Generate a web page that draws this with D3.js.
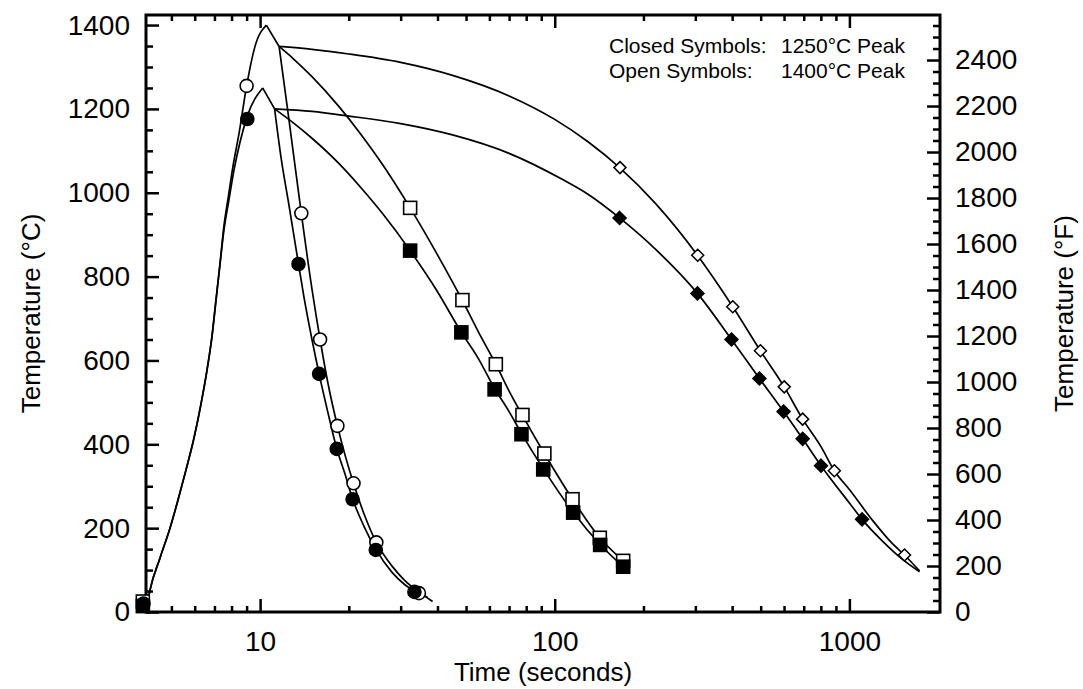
<!DOCTYPE html>
<html>
<head>
<meta charset="utf-8">
<script src="https://cdnjs.cloudflare.com/ajax/libs/d3/7.8.5/d3.min.js"></script>
<style>
  body { margin: 0; background: #fff; }
  text { font-family: "Liberation Sans", Arial, sans-serif; fill: #000; }
</style>
</head>
<body>
<div id="chart"></div>
<script>
// heating + cooling thermal cycles, [time (s), temperature (°C)]
const heat1250 = [[4.1,0],[4.23,52],[4.575,129],[4.945,200],[5.265,267],[5.605,339],[5.966,415],[6.3,496],[6.605,577],[6.868,658],[7.085,744],[7.31,830],[7.54,911],[7.84,983],[8.155,1054],[8.55,1121],[9.03,1181],[10.2,1250]]
const heat1400 = [[4.1,0],[4.23,52],[4.575,129],[4.945,200],[5.265,267],[5.605,339],[5.966,415],[6.3,496],[6.605,577],[6.868,658],[7.085,744],[7.31,830],[7.52,915],[7.8,990],[8.1,1065],[8.5,1145],[9.0,1255],[9.6,1348],[10.5,1400]]

const fast1250 = [[11.2,1200],[11.8,1080],[12.5,975],[13.5,830],[14.1,750],[15,650],[15.86,568],[17,475],[18.2,390],[19.5,325],[20.6,270],[22.5,205],[24.7,150],[28,95],[31,65],[33.4,50],[37,35]]
const fast1400 = [[11.6,1349],[12.5,1180],[13.8,951],[15,770],[15.98,650],[17,545],[18.3,444],[19.5,370],[20.75,307],[22.5,235],[24.8,166],[28,110],[31,75],[34.6,48],[38.5,25]]

const med1250 = [[11.2,1200],[13,1166],[15,1130],[18.5,1070],[22,1012],[26,951],[32.3,862],[40,764],[48.2,667],[55,605],[62.5,533],[70,478],[77.1,426],[91.4,342],[115.5,238],[142.6,161],[170.7,108]]
const med1400 = [[11.6,1349],[13,1319],[15,1277],[18.5,1206],[22,1139],[26,1068],[32.3,964],[40,852],[48.6,743],[55,669],[63.1,591],[70,527],[77.7,469],[92.2,378],[114.9,269],[142.2,177],[170.7,122]]

const slow1250 = [[11.2,1200],[15,1194],[20,1183],[30,1165],[45,1138],[70,1094],[106,1032],[130,996],[166,940],[220,865],[305,760],[398,650],[495,557],[598,478],[694,413],[801,349],[1000,260],[1104,221],[1300,168],[1500,128],[1730,96]]
const slow1400 = [[11.6,1349],[15,1342],[20,1331],[30,1311],[45,1280],[70,1231],[100,1175],[130,1121],[166,1060],[220,974],[305,851],[402,728],[499,623],[601,537],[694,460],[800,395],[889,337],[1000,292],[1200,218],[1400,163],[1538,136],[1730,98]]

// measured symbols
const closedCircles = [[4.02,20],[9.05,1176],[13.5,830],[15.86,568],[18.2,389],[20.6,269],[24.7,148],[33.4,48]]
const openCircles = [[9.0,1255],[13.8,951],[15.98,650],[18.3,444],[20.75,307],[24.8,166],[34.6,45]]
const closedSquares = [[4.0,14],[32.3,862],[48.2,667],[62.5,531],[77.1,424],[91.4,340],[115.5,237],[142.6,160],[170.7,108]]
const openSquares = [[4.0,25],[32.3,964],[48.6,744],[63.1,591],[77.7,470],[92.2,378],[114.9,269],[142.2,177],[170.7,122]]
const closedDiamonds = [[166,940],[305,760],[398,650],[495,557],[598,478],[694,413],[801,349],[1104,221]]
const openDiamonds = [[166.5,1060],[305.6,851],[402,728],[499,623],[601,537],[694,460],[889,337],[1538,136]]

// axes
const xMajor = [10, 100, 1000]
const xMinor = [5,6,7,8,9,20,30,40,50,60,70,80,90,200,300,400,500,600,700,800,900]
const cMajor = [0,200,400,600,800,1000,1200,1400]
const fMajor = [0,200,400,600,800,1000,1200,1400,1600,1800,2000,2200,2400]
const fAtTop = 2552   // °F value at 1400 °C on the right axis

const legendLabels = ["Closed Symbols:", "Open Symbols:"]
const legendValues = ["1250°C Peak", "1400°C Peak"]

let data = {
  fullWidth: 1083,
  fullHeight: 689,
  margin: { left: 146, right: 143, top: 15, bottom: 77 }
}
data.width = data.fullWidth - data.margin.left - data.margin.right
data.height = data.fullHeight - data.margin.top - data.margin.bottom

let svg = d3.select("#chart")
  .append("svg")
  .attr("width", data.fullWidth)
  .attr("height", data.fullHeight)

let g = svg.append("g")
  .attr("transform", `translate(${data.margin.left},${data.margin.top})`)

let x = d3.scaleLog().domain([4.1, 2030]).range([0, data.width])
let y = d3.scaleLinear().domain([0, 1424]).range([data.height, 0])
let yF = d3.scaleLinear().domain([0, fAtTop * 1424 / 1400]).range([data.height, 0])

const fs = 28
const plain = d3.format("d")

// ticks (pointing inward)
let cMinor = d3.range(0, 1424, 50).filter(v => v % 200 != 0)
let fMinor = d3.range(0, 2590, 50).filter(v => v % 200 != 0)

g.append("g").attr("class", "ax")
  .call(d3.axisLeft(y).tickValues(cMajor).tickSize(-13).tickPadding(16).tickFormat(plain))
g.append("g").attr("class", "ax")
  .call(d3.axisLeft(y).tickValues(cMinor).tickSize(-7).tickFormat(""))

g.append("g").attr("class", "ax")
  .attr("transform", `translate(${data.width},0)`)
  .call(d3.axisRight(yF).tickValues(fMajor).tickSize(-13).tickPadding(15).tickFormat(plain))
g.append("g").attr("class", "ax")
  .attr("transform", `translate(${data.width},0)`)
  .call(d3.axisRight(yF).tickValues(fMinor).tickSize(-7).tickFormat(""))

g.append("g").attr("class", "ax")
  .attr("transform", `translate(0,${data.height})`)
  .call(d3.axisBottom(x).tickValues(xMajor).tickSize(-13).tickPadding(19).tickFormat(plain))
g.append("g").attr("class", "ax")
  .attr("transform", `translate(0,${data.height})`)
  .call(d3.axisBottom(x).tickValues(xMinor).tickSize(-6).tickFormat(""))
g.append("g").attr("class", "ax")
  .call(d3.axisTop(x).tickValues(xMajor).tickSize(-13).tickFormat(""))
g.append("g").attr("class", "ax")
  .call(d3.axisTop(x).tickValues(xMinor).tickSize(-6).tickFormat(""))

g.selectAll(".ax .domain").remove()
g.selectAll(".ax line").attr("stroke", "#000").attr("stroke-width", 2.5)
g.selectAll(".ax text").attr("font-size", fs).attr("font-family", "Liberation Sans, Arial, sans-serif").attr("fill", "#000")

g.append("rect")
  .attr("width", data.width)
  .attr("height", data.height)
  .attr("fill", "none")
  .attr("stroke", "#000")
  .attr("stroke-width", 3)

// curves
let smooth = d3.line().x(d => x(d[0])).y(d => y(d[1])).curve(d3.curveMonotoneX)
let straight = d3.line().x(d => x(d[0])).y(d => y(d[1]))

let lines = g.append("g").attr("fill", "none").attr("stroke", "#000").attr("stroke-width", 1.7)
;[heat1250, heat1400, fast1250, fast1400, med1250, med1400, slow1250, slow1400].forEach(s => {
  lines.append("path").attr("d", smooth(s))
})
lines.append("path").attr("d", straight([heat1250[heat1250.length - 1], fast1250[0]]))
lines.append("path").attr("d", straight([heat1400[heat1400.length - 1], fast1400[0]]))

// symbols
let sym = g.append("g")
let circ = (arr, fill) => sym.selectAll(null).data(arr).enter().append("circle")
  .attr("cx", d => x(d[0])).attr("cy", d => y(d[1])).attr("r", 6.5)
  .attr("fill", fill).attr("stroke", "#000").attr("stroke-width", 1.6)
let sq = (arr, fill) => sym.selectAll(null).data(arr).enter().append("rect")
  .attr("x", d => x(d[0]) - 6.5).attr("y", d => y(d[1]) - 6.5)
  .attr("width", 13).attr("height", 13)
  .attr("fill", fill).attr("stroke", "#000").attr("stroke-width", 1.6)
let dia = (arr, fill, r) => sym.selectAll(null).data(arr).enter().append("path")
  .attr("d", d => `M${x(d[0])},${y(d[1]) - r}L${x(d[0]) + r},${y(d[1])}L${x(d[0])},${y(d[1]) + r}L${x(d[0]) - r},${y(d[1])}Z`)
  .attr("fill", fill).attr("stroke", "#000").attr("stroke-width", 1.5)

sq(openSquares, "#fff")
sq(closedSquares, "#000")
circ(openCircles, "#fff")
circ(closedCircles, "#000")
dia(closedDiamonds, "#000", 6.5)
dia(openDiamonds, "#fff", 6)

// legend
let leg = g.append("g").attr("font-size", 21)
legendLabels.forEach((t, i) => {
  leg.append("text").attr("x", 463).attr("y", 38 + i * 24.5).text(t)
  leg.append("text").attr("x", 635).attr("y", 38 + i * 24.5).text(legendValues[i])
})

// axis titles
svg.append("text")
  .attr("x", data.margin.left + data.width / 2)
  .attr("y", 681)
  .attr("text-anchor", "middle")
  .attr("font-size", 26)
  .text("Time (seconds)")

svg.append("text")
  .attr("transform", `translate(40,${data.margin.top + data.height / 2}) rotate(-90)`)
  .attr("text-anchor", "middle")
  .attr("font-size", 26)
  .text("Temperature (°C)")

svg.append("text")
  .attr("transform", `translate(1073,${data.margin.top + data.height / 2}) rotate(-90)`)
  .attr("text-anchor", "middle")
  .attr("font-size", 26)
  .text("Temperature (°F)")
</script>
</body>
</html>
